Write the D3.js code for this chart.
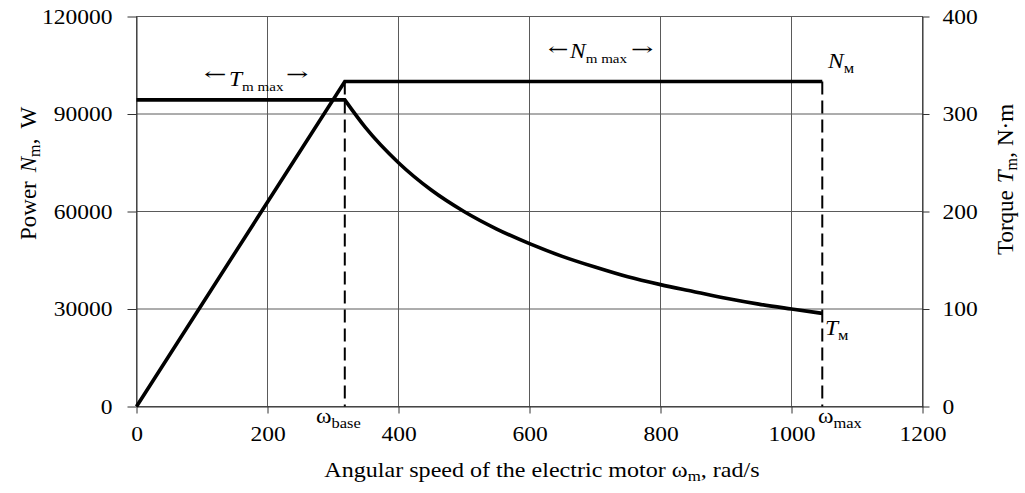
<!DOCTYPE html>
<html>
<head>
<meta charset="utf-8">
<script src="https://cdn.jsdelivr.net/npm/d3@7"></script>
<style>
  html, body { margin: 0; padding: 0; background: #fff; }
  svg { display: block; font-family: "Liberation Serif", "Times New Roman", serif; }
</style>
</head>
<body>
<svg id="chart" width="1025" height="493"></svg>
<script>
// ---- data ----
const speedTicks = [0, 200, 400, 600, 800, 1000, 1200];
const powerTicks = [0, 30000, 60000, 90000, 120000];
const torqueTicks = [0, 100, 200, 300, 400];

const omegaBase = 318;
const omegaMax = 1047;

const powerSpeed = [0, 318, 1047];
const powerValues = [0, 100000, 100000];

const torqueSpeed = [0, 318, 350, 400, 450, 500, 550, 600, 650, 700, 750, 800, 850, 900, 950, 1000, 1047];
const torqueValues = [314.5, 314.5, 285.7, 250, 222, 200, 182, 167, 154, 143, 133, 125, 118, 111, 105, 100, 95.5];

// ---- layout ----
const svg = d3.select("#chart");
const L = 136.5, R = 922.5, T = 16.5, B = 406.5;
const x = d3.scaleLinear().domain([0, 1200]).range([L, R]);
const yP = d3.scaleLinear().domain([0, 120000]).range([B, T]);
const yT = d3.scaleLinear().domain([0, 400]).range([B, T]);

const gridColor = "#5a5a5a";
const SX = 1.12;
const FONT = "'Liberation Serif', 'Times New Roman', serif";

// grid
const grid = svg.append("g");
grid.selectAll("line.vx").data(speedTicks.slice(1, -1)).join("line")
  .attr("x1", d => x(d)).attr("x2", d => x(d)).attr("y1", T).attr("y2", B)
  .attr("stroke", gridColor).attr("stroke-width", 1);
grid.selectAll("line.hy").data(powerTicks.slice(1, -1)).join("line")
  .attr("x1", L).attr("x2", R).attr("y1", d => yP(d)).attr("y2", d => yP(d))
  .attr("stroke", gridColor).attr("stroke-width", 1);
// frame
svg.append("rect").attr("x", L).attr("y", T).attr("width", R - L).attr("height", B - T)
  .attr("fill", "none").attr("stroke", gridColor).attr("stroke-width", 1);

function styleAxis(g) {
  g.attr("font-family", FONT);
  g.select(".domain").attr("stroke", "#333");
  g.selectAll(".tick line").attr("stroke", "#333");
  g.selectAll(".tick text").attr("font-size", 21).attr("fill", "#000")
    .attr("transform", `scale(${SX},1)`);
}

// left axis
const gl = svg.append("g").attr("transform", `translate(${L},0)`)
  .call(d3.axisLeft(yP).tickValues(powerTicks).tickSize(9).tickPadding(12.4).tickSizeOuter(0).tickFormat(d3.format("d")));
styleAxis(gl);

// bottom axis
const gb = svg.append("g").attr("transform", `translate(0,${B})`)
  .call(d3.axisBottom(x).tickValues(speedTicks).tickSize(7).tickPadding(13).tickSizeOuter(0).tickFormat(d3.format("d")));
styleAxis(gb);

// right axis
const gr = svg.append("g").attr("transform", `translate(${R},0)`)
  .call(d3.axisRight(yT).tickValues(torqueTicks).tickSize(7).tickPadding(10.9).tickSizeOuter(0).tickFormat(d3.format("d")));
styleAxis(gr);

// dashed verticals
[omegaBase, omegaMax].forEach(w => {
  svg.append("line").attr("x1", x(w)).attr("x2", x(w))
    .attr("y1", yP(100000)).attr("y2", B)
    .attr("stroke", "#000").attr("stroke-width", 2).attr("stroke-dasharray", "13,6");
});

// series lines
const powerLine = d3.line().x(d => x(d[0])).y(d => yP(d[1]));
svg.append("path").datum(powerSpeed.map((s, i) => [s, powerValues[i]]))
  .attr("d", powerLine).attr("fill", "none").attr("stroke", "#000").attr("stroke-width", 3.6);

// torque: straight constant-torque segment, then smooth hyperbolic part
const tPts = torqueSpeed.map((s, i) => [s, torqueValues[i]]);
const straight = d3.line().x(d => x(d[0])).y(d => yT(d[1]));
const smooth = d3.line().x(d => x(d[0])).y(d => yT(d[1])).curve(d3.curveMonotoneX);
const dTorque = straight(tPts.slice(0, 2)) + smooth(tPts.slice(1)).replace(/^M/, "L");
svg.append("path").attr("d", dTorque)
  .attr("fill", "none").attr("stroke", "#000").attr("stroke-width", 3.6);

// rich text helper
function richText(px, py, parts, opt) {
  const size = opt.size || 21;
  const subRatio = opt.subRatio || 0.7;
  const g = svg.append("g").attr("transform",
    `translate(${px},${py}) rotate(${opt.rotate || 0}) scale(${opt.sx || 1},${opt.sy || 1})`);
  const t = g.append("text").attr("font-size", size).attr("text-anchor", opt.anchor || "start")
    .attr("fill", "#000").attr("font-family", FONT);
  let cur = 0;
  const subShift = opt.subShift != null ? opt.subShift : 0.24;
  parts.forEach(p => {
    const ts = t.append("tspan").text(p.t);
    const shift = p.sub ? size * subShift : 0;
    ts.attr("dy", shift - cur);
    if (p.dx) ts.attr("dx", p.dx);
    cur = shift;
    if (p.sub) ts.attr("font-size", size * subRatio);
    if (p.it) ts.attr("font-style", "italic");
  });
  return g;
}

// arrow glyph stretched so that its ink spans [x0, x1], centred vertically on yMid
const mctx = document.createElement("canvas").getContext("2d");
const ARROW_FONT = "'DejaVu Serif'";
function arrowText(ch, x0, x1, yMid) {
  const fs = 17;
  mctx.font = `${fs}px ${ARROW_FONT}`;
  const m = mctx.measureText(ch);
  let inkL = -(m.actualBoundingBoxLeft || 0);
  let inkR = m.actualBoundingBoxRight || m.width;
  if (!(inkR > inkL)) { inkL = 0; inkR = m.width || 12; }
  const asc = m.actualBoundingBoxAscent || fs * 0.5;
  const desc = m.actualBoundingBoxDescent || 0;
  const k = (x1 - x0) / (inkR - inkL);
  const base = yMid + (asc - desc) / 2;
  const g = svg.append("g").attr("transform", `translate(${x0 - inkL * k},${base}) scale(${k},1)`);
  g.append("text").attr("font-size", fs).attr("font-family", ARROW_FONT).attr("fill", "#000").text(ch);
}

// axis titles
richText(542, 477, [{t: "Angular speed of the electric motor ω"}, {t: "m", sub: true}, {t: ", rad/s"}],
  {size: 21.5, sx: SX, anchor: "middle", subShift: 0.2});
richText(36, 240, [{t: "Power"}, {t: "N", it: true, dx: 9}, {t: "m", sub: true}, {t: ","}, {t: "W", dx: 10}],
  {size: 23, rotate: -90, subShift: 0.18});
richText(1013, 255, [{t: "Torque"}, {t: "T", it: true, dx: 7}, {t: "m", sub: true}, {t: ","}, {t: "N·m", dx: 6}],
  {size: 23, rotate: -90, subShift: 0.18});

// annotations
arrowText("←", 204, 226, 74.5);
richText(229, 86, [{t: "T", it: true}, {t: "m max", sub: true}], {size: 21, sx: SX, subShift: 0.22, subRatio: 0.64});
arrowText("→", 286, 308, 74.5);

arrowText("←", 548, 568, 49.5);
richText(570, 58, [{t: "N", it: true}, {t: "m max", sub: true}], {size: 21, sx: SX, subShift: 0.22, subRatio: 0.64});
arrowText("→", 631, 653, 49.5);

richText(828, 68, [{t: "N", it: true}, {t: "м", sub: true}], {size: 21, sx: SX});
richText(825, 335, [{t: "T", it: true}, {t: "м", sub: true}], {size: 21, sx: SX});
richText(316, 423, [{t: "ω"}, {t: "base", sub: true}], {size: 21, sx: SX});
richText(818, 423, [{t: "ω"}, {t: "max", sub: true}], {size: 21, sx: SX});
</script>
</body>
</html>
